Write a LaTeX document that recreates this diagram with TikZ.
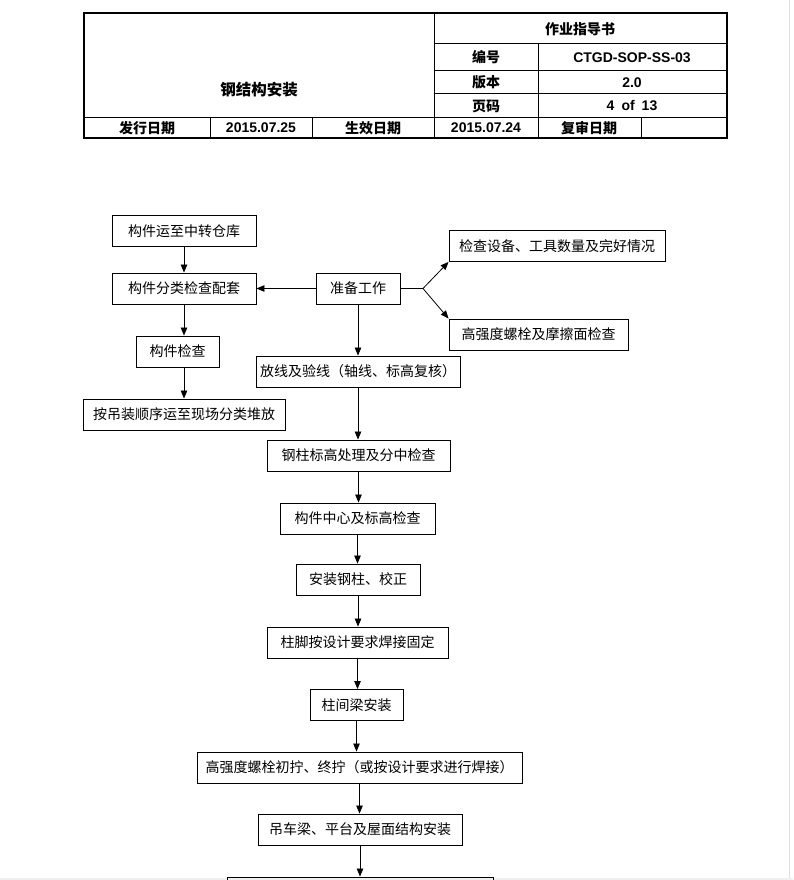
\documentclass[tikz,border=0pt]{standalone}
\usepackage{fontspec}
\setmainfont{Liberation Sans}
\newfontfamily\cjk{Noto Sans CJK SC}
\usetikzlibrary{arrows.meta}
\tikzset{every node/.append style={font=\cjk\fontsize{14}{16}\selectfont}}
\tikzset{
  flowbox/.style={draw, line width=0.9pt, inner sep=0pt, minimum height=31pt},
  headcn/.style={font=\cjk\bfseries\fontsize{14}{16}\selectfont},
  headnum/.style={font=\bfseries\fontsize{14}{16}\selectfont},
}

\begin{document}
\begin{tikzpicture}[x=1pt, y=-1pt, >={Triangle[length=8pt, width=6.5pt]}]
    \clip (0,0) rectangle (793,880);
    \fill[white] (0,0) rectangle (793,880);
    \fill[gray!12] (0,878) rectangle (793,880);
    \draw[gray!25] (789.5,0) -- (789.5,878);
    % header table
    \draw[line width=1.2pt] (84,13) rectangle (727,138);
    \draw[line width=1pt] (434,13) -- (434,138);
    \draw[line width=1pt] (434,44) -- (727,44);
    \draw[line width=1pt] (434,71) -- (727,71);
    \draw[line width=1pt] (434,94) -- (727,94);
    \draw[line width=1pt] (84,118) -- (727,118);
    \draw[line width=1pt] (538,44) -- (538,138);
    \foreach \xx in {210,312,641}
        \draw[line width=1pt] (\xx,118) -- (\xx,138);
    \node[headcn, font=\cjk\bfseries\fontsize{15.5}{17}\selectfont] (title) at (259,90) {钢结构安装};
    \node[headcn] (doctype) at (580,29) {作业指导书};
    \node[headcn] (nolabel) at (486,57.5) {编号};
    \node[headnum] (noval) at (632,57.5) {CTGD-SOP-SS-03};
    \node[headcn] (verlabel) at (486,82.5) {版本};
    \node[headnum] (verval) at (632,82.5) {2.0};
    \node[headcn] (pglabel) at (486,106) {页码};
    \node[headnum] (pgval) at (632,106) {4\enspace of\enspace 13};
    \node[headcn] (issue) at (147,128) {发行日期};
    \node[headnum] (issueval) at (261,128) {2015.07.25};
    \node[headcn] (eff) at (373,128) {生效日期};
    \node[headnum] (effval) at (486,128) {2015.07.24};
    \node[headcn] (review) at (589,128) {复审日期};
    % left branch
    \node[flowbox, minimum width=144pt] (store) at (184,231) {构件运至中转仓库};
    \node[flowbox, minimum width=144pt] (sort) at (184,288.5) {构件分类检查配套};
    \node[flowbox, minimum width=83pt] (inspect) at (177.5,351.5) {构件检查};
    \node[flowbox, minimum width=202pt] (haul) at (184,414.5) {按吊装顺序运至现场分类堆放};
    % preparation and its checks
    \node[flowbox, minimum width=84pt] (prep) at (358,288.5) {准备工作};
    \node[flowbox, minimum width=216pt] (tools) at (557,246) {检查设备、工具数量及完好情况};
    \node[flowbox, minimum width=179pt] (bolts) at (538.5,334.5) {高强度螺栓及摩擦面检查};
    \coordinate (fork) at (423,288.5);
    % main column
    \node[flowbox, minimum width=204pt] (layout) at (358,371.5) {放线及验线（轴线、标高复核）};
    \node[flowbox, minimum width=183pt] (level) at (358.5,455.5) {钢柱标高处理及分中检查};
    \node[flowbox, minimum width=155pt] (centre) at (357.5,518.5) {构件中心及标高检查};
    \node[flowbox, minimum width=124pt] (erect) at (358,579.5) {安装钢柱、校正};
    \node[flowbox, minimum width=181pt] (base) at (357.5,642.5) {柱脚按设计要求焊接固定};
    \node[flowbox, minimum width=93pt] (beam) at (356.5,705) {柱间梁安装};
    \node[flowbox, minimum width=325pt] (tighten) at (359.5,767.5) {高强度螺栓初拧、终拧（或按设计要求进行焊接）};
    \node[flowbox, minimum width=204pt] (roof) at (360,829.5) {吊车梁、平台及屋面结构安装};
    \node[flowbox, minimum width=266pt] (next) at (360,892.5) {};
    % connectors
    \draw[->, line width=0.8pt] (store) -- (sort);
    \draw[->, line width=0.8pt] (sort) -- (sort |- inspect.north);
    \draw[->, line width=0.8pt] (sort |- inspect.south) -- (sort |- haul.north);
    \draw[->, line width=0.8pt] (prep) -- (sort);
    \draw[line width=0.8pt] (prep) -- (fork);
    \draw[->, line width=0.8pt] (fork) -- (tools.south west);
    \draw[->, line width=0.8pt] (fork) -- (bolts.north west);
    \draw[->, line width=0.8pt] (prep) -- (prep |- layout.north);
    \draw[->, line width=0.8pt] (layout) -- (layout |- level.north);
    \draw[->, line width=0.8pt] (level) -- (level |- centre.north);
    \draw[->, line width=0.8pt] (centre) -- (centre |- erect.north);
    \draw[->, line width=0.8pt] (erect) -- (erect |- base.north);
    \draw[->, line width=0.8pt] (base) -- (base |- beam.north);
    \draw[->, line width=0.8pt] (beam) -- (beam |- tighten.north);
    \draw[->, line width=0.8pt] (tighten) -- (tighten |- roof.north);
    \draw[->, line width=0.8pt] (roof) -- (roof |- next.north);
\end{tikzpicture}
\end{document}
